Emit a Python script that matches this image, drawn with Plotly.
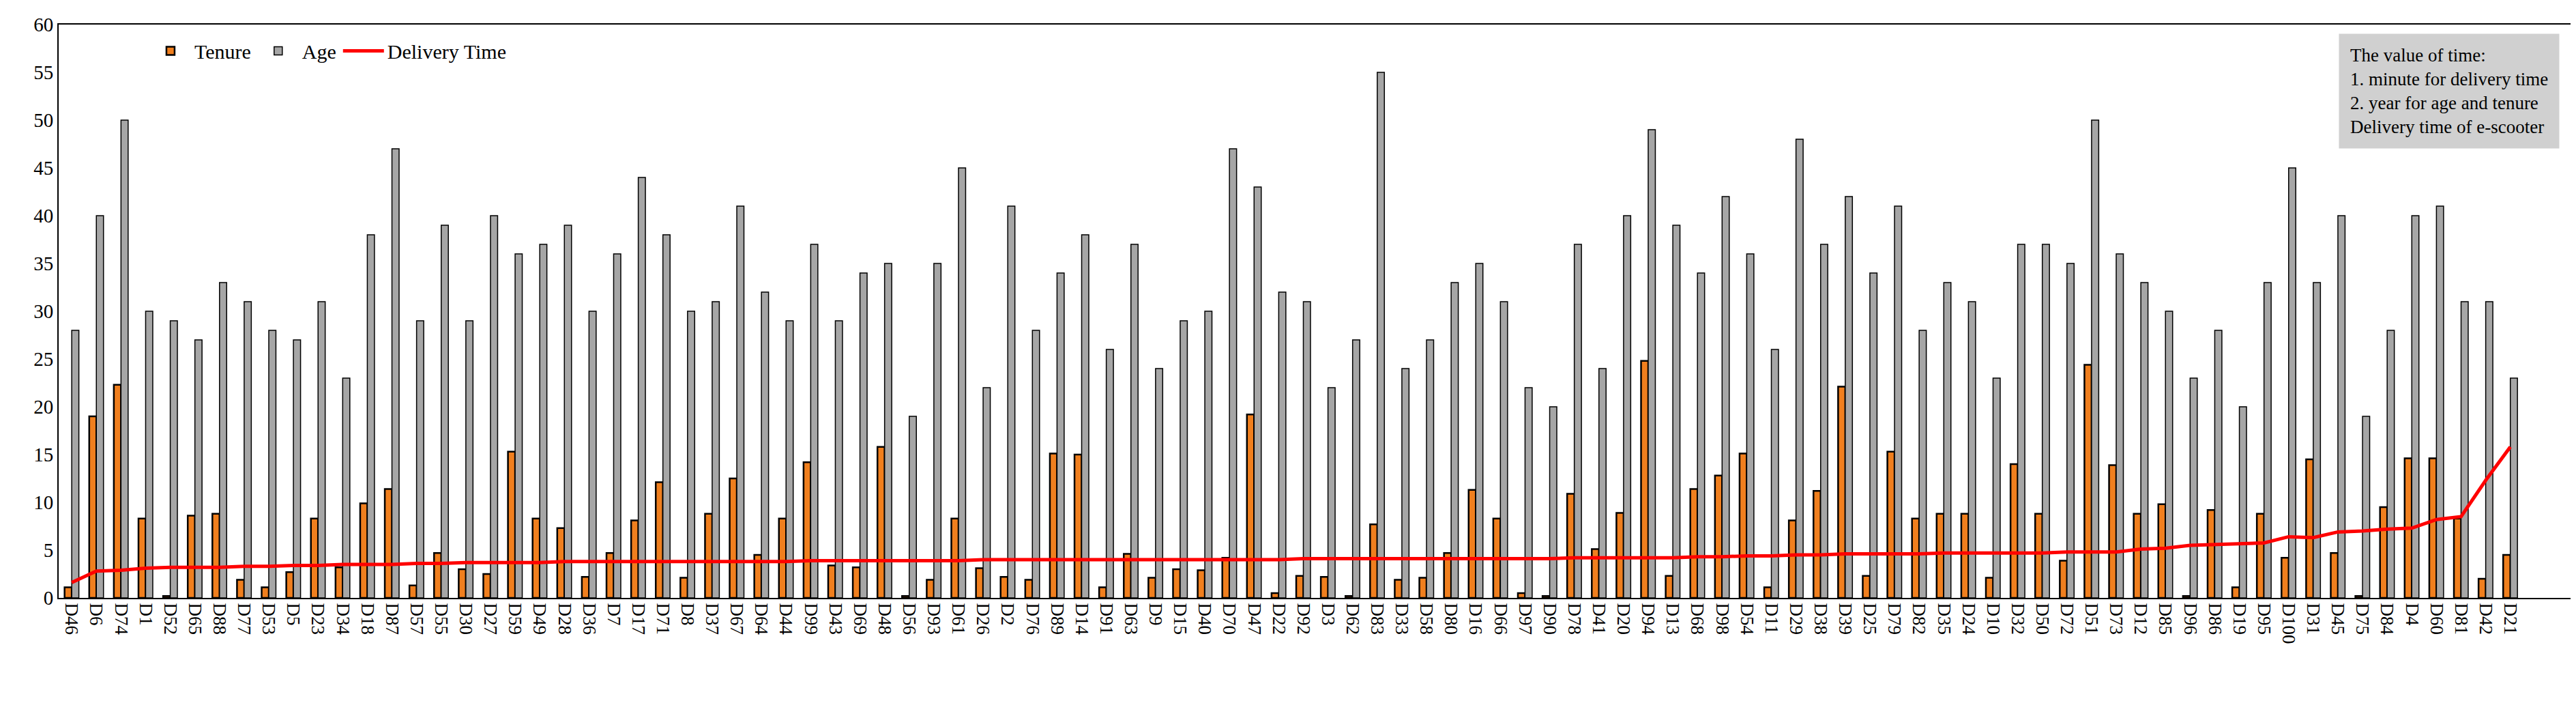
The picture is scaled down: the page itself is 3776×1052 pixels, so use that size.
import plotly.graph_objects as go

# Riders, sorted by delivery time
riders = ['D46', 'D6', 'D74', 'D1', 'D52', 'D65', 'D88', 'D77', 'D53', 'D5',
          'D23', 'D34', 'D18', 'D87', 'D57', 'D55', 'D30', 'D27', 'D59', 'D49',
          'D28', 'D36', 'D7', 'D17', 'D71', 'D8', 'D37', 'D67', 'D64', 'D44',
          'D99', 'D43', 'D69', 'D48', 'D56', 'D93', 'D61', 'D26', 'D2', 'D76',
          'D89', 'D14', 'D91', 'D63', 'D9', 'D15', 'D40', 'D70', 'D47', 'D22',
          'D92', 'D3', 'D62', 'D83', 'D33', 'D58', 'D80', 'D16', 'D66', 'D97',
          'D90', 'D78', 'D41', 'D20', 'D94', 'D13', 'D68', 'D98', 'D54', 'D11',
          'D29', 'D38', 'D39', 'D25', 'D79', 'D82', 'D35', 'D24', 'D10', 'D32',
          'D50', 'D72', 'D51', 'D73', 'D12', 'D85', 'D96', 'D86', 'D19', 'D95',
          'D100', 'D31', 'D45', 'D75', 'D84', 'D4', 'D60', 'D81', 'D42', 'D21']

tenure = [1.1, 19, 22.3, 8.3, 0.2, 8.6, 8.8, 1.9, 1.1, 2.7,
          8.3, 3.2, 9.9, 11.4, 1.3, 4.7, 3.0, 2.5, 15.3, 8.3,
          7.3, 2.2, 4.7, 8.1, 12.1, 2.1, 8.8, 12.5, 4.5, 8.3,
          14.2, 3.4, 3.2, 15.8, 0.2, 1.9, 8.3, 3.1, 2.2, 1.9,
          15.1, 15.0, 1.1, 4.6, 2.1, 3.0, 2.9, 4.2, 19.2, 0.5,
          2.3, 2.2, 0.2, 7.7, 1.9, 2.1, 4.7, 11.3, 8.3, 0.5,
          0.2, 10.9, 5.1, 8.9, 24.8, 2.3, 11.4, 12.8, 15.1, 1.1,
          8.1, 11.2, 22.1, 2.3, 15.3, 8.3, 8.8, 8.8, 2.1, 14.0,
          8.8, 3.9, 24.4, 13.9, 8.8, 9.8, 0.2, 9.2, 1.1, 8.8,
          4.2, 14.5, 4.7, 0.2, 9.5, 14.6, 14.6, 8.3, 2.0, 4.5]

age = [28, 40, 50, 30, 29, 27, 33, 31, 28, 27,
       31, 23, 38, 47, 29, 39, 29, 40, 36, 37,
       39, 30, 36, 44, 38, 30, 31, 41, 32, 29,
       37, 29, 34, 35, 19, 35, 45, 22, 41, 28,
       34, 38, 26, 37, 24, 29, 30, 47, 43, 32,
       31, 22, 27, 55, 24, 27, 33, 35, 31, 22,
       20, 37, 24, 40, 49, 39, 34, 42, 36, 26,
       48, 37, 42, 34, 41, 28, 33, 31, 23, 37,
       37, 35, 50, 36, 33, 30, 23, 28, 20, 33,
       45, 33, 40, 19, 28, 40, 41, 31, 31, 23]

delivery = [1.6, 2.8, 2.9, 3.1, 3.2, 3.2, 3.2, 3.3, 3.3, 3.4,
            3.4, 3.5, 3.5, 3.5, 3.6, 3.6, 3.7, 3.7, 3.7, 3.7,
            3.8, 3.8, 3.8, 3.8, 3.8, 3.8, 3.8, 3.8, 3.8, 3.8,
            3.9, 3.9, 3.9, 3.9, 3.9, 3.9, 3.9, 4.0, 4.0, 4.0,
            4.0, 4.0, 4.0, 4.0, 4.0, 4.0, 4.0, 4.0, 4.0, 4.0,
            4.1, 4.1, 4.1, 4.1, 4.1, 4.1, 4.1, 4.1, 4.1, 4.1,
            4.1, 4.2, 4.2, 4.2, 4.2, 4.2, 4.3, 4.3, 4.4, 4.4,
            4.5, 4.5, 4.6, 4.6, 4.6, 4.6, 4.7, 4.7, 4.7, 4.7,
            4.7, 4.8, 4.8, 4.8, 5.1, 5.2, 5.5, 5.6, 5.7, 5.75,
            6.4, 6.3, 6.9, 7.0, 7.2, 7.3, 8.2, 8.5, 12.3, 15.8]

serif = 'Liberation Serif'

fig = go.Figure()
fig.add_trace(go.Bar(x=riders, y=tenure, name='Tenure',
                     marker=dict(color='#F07F1E', line=dict(color='black', width=2.5))))
fig.add_trace(go.Bar(x=riders, y=age, name='Age',
                     marker=dict(color='#A6A6A6', line=dict(color='black', width=1.5))))
fig.add_trace(go.Scatter(x=riders, y=delivery, name='Delivery Time', mode='lines',
                         line=dict(color='#FF0000', width=5)))

fig.update_layout(
    width=3776, height=1052,
    margin=dict(l=78, r=14, t=18, b=184),
    plot_bgcolor='white', paper_bgcolor='white',
    barmode='group', bargap=0.42, bargroupgap=0,
    font=dict(family=serif, size=26, color='black'),
    showlegend=True,
    legend=dict(orientation='h', x=0.035, y=0.985, xanchor='left', yanchor='top',
                font=dict(size=30, family=serif), bgcolor='rgba(0,0,0,0)',
                itemwidth=60),
    annotations=[dict(
        text='The value of time:<br>1. minute for delivery time<br>'
             '2. year for age and tenure<br>Delivery time of e-scooter',
        xref='paper', yref='paper', x=0.995, y=0.985, xanchor='right', yanchor='top',
        align='left', showarrow=False, bgcolor='#D0D0D0', borderpad=16,
        font=dict(size=27, family=serif))],
)
fig.update_xaxes(range=[-0.53, 101.5], tickangle=90, showline=True, linecolor='black',
                 linewidth=2, mirror=True, ticks='', tickfont=dict(size=27))
fig.update_yaxes(range=[0, 60], dtick=5, showgrid=False, showline=True, linecolor='black',
                 linewidth=2, mirror=True, ticks='', tickfont=dict(size=29), zeroline=False)

fig.write_html('out.html')
